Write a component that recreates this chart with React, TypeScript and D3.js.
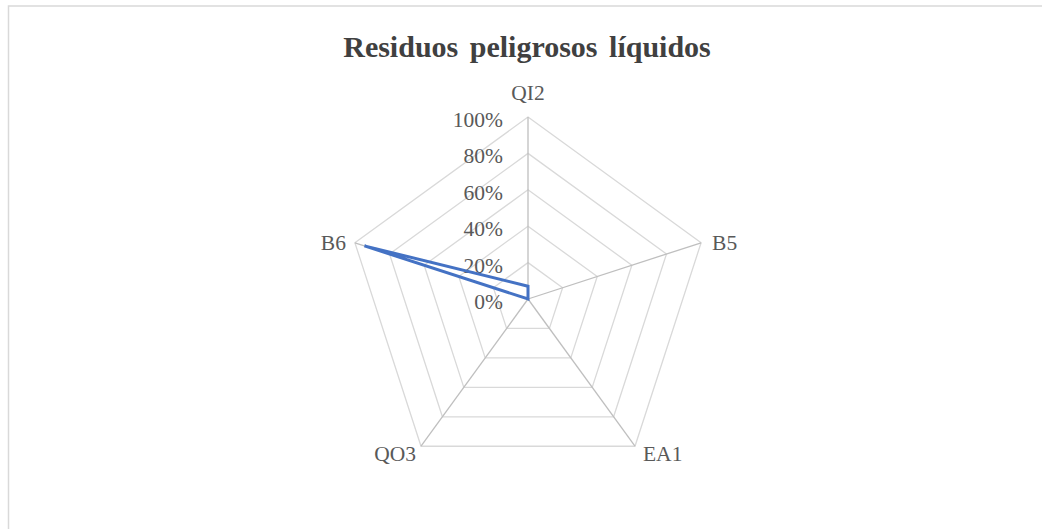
import React from "react";
import * as d3 from "d3";

const categories = ["QI2", "B5", "EA1", "QO3", "B6"];
const values = [0.07, 0, 0, 0, 0.945];
const ticks = [0, 0.2, 0.4, 0.6, 0.8, 1.0];

const W = 1042;
const H = 529;
const cx = 528;
const cy = 299;
const R = 182;

export default function App() {
  const r = d3.scaleLinear().domain([0, 1]).range([0, R]);
  const angle = d3
    .scaleBand<string>()
    .domain(categories)
    .range([0, 2 * Math.PI]);
  const pt = (cat: string, v: number): [number, number] => {
    const a = angle(cat)!;
    return [cx + r(v) * Math.sin(a), cy - r(v) * Math.cos(a)];
  };
  const fmt = d3.format(".0%");
  const line = d3.line<[number, number]>().curve(d3.curveLinearClosed);
  const seriesPath = line(categories.map((c, i) => pt(c, values[i])));

  return (
    <svg
      width={W}
      height={H}
      style={{ position: "absolute", left: 0, top: 0, background: "#fff" }}
      fontFamily="'Liberation Serif', 'Times New Roman', serif"
    >
      <rect x={8.5} y={6} width={W + 10} height={H + 10} fill="#fff" stroke="#d9d9d9" strokeWidth={1.5} />
      <text
        x={527}
        y={57}
        textAnchor="middle"
        fontSize={30}
        fontWeight="bold"
        fill="#404040"
        wordSpacing={4}
      >
        Residuos peligrosos líquidos
      </text>
      {ticks.slice(1).map((t) => (
        <path
          key={t}
          d={line(categories.map((c) => pt(c, t))) || ""}
          fill="none"
          stroke="#d9d9d9"
          strokeWidth={1.3}
        />
      ))}
      {categories.map((c) => {
        const [x, y] = pt(c, 1);
        return <line key={c} x1={cx} y1={cy} x2={x} y2={y} stroke="#bfbfbf" strokeWidth={1.3} />;
      })}
      {ticks.map((t) => (
        <text
          key={t}
          x={cx - 25}
          y={cy - r(t) + 5}
          textAnchor="end"
          dominantBaseline="middle"
          fontSize={21.5}
          fill="#595959"
        >
          {fmt(t)}
        </text>
      ))}
      {categories.map((c) => {
        const a = angle(c)!;
        const [x, y] = pt(c, 1);
        const s = Math.sin(a);
        const co = Math.cos(a);
        let anchor = "middle";
        let dx = 0;
        let dy = 0;
        if (Math.abs(s) < 0.1) {
          dy = -22;
        } else if (co > 0) {
          anchor = s > 0 ? "start" : "end";
          dx = s > 0 ? 11 : -9;
          dy = 2;
        } else {
          anchor = s > 0 ? "start" : "end";
          dx = s > 0 ? 8 : -5;
          dy = 10;
        }
        return (
          <text
            key={c}
            x={x + dx}
            y={y + dy}
            textAnchor={anchor}
            dominantBaseline="middle"
            fontSize={21.5}
            fill="#595959"
          >
            {c}
          </text>
        );
      })}
      <path d={seriesPath || ""} fill="none" stroke="#4472C4" strokeWidth={3} strokeLinejoin="miter" />
    </svg>
  );
}
